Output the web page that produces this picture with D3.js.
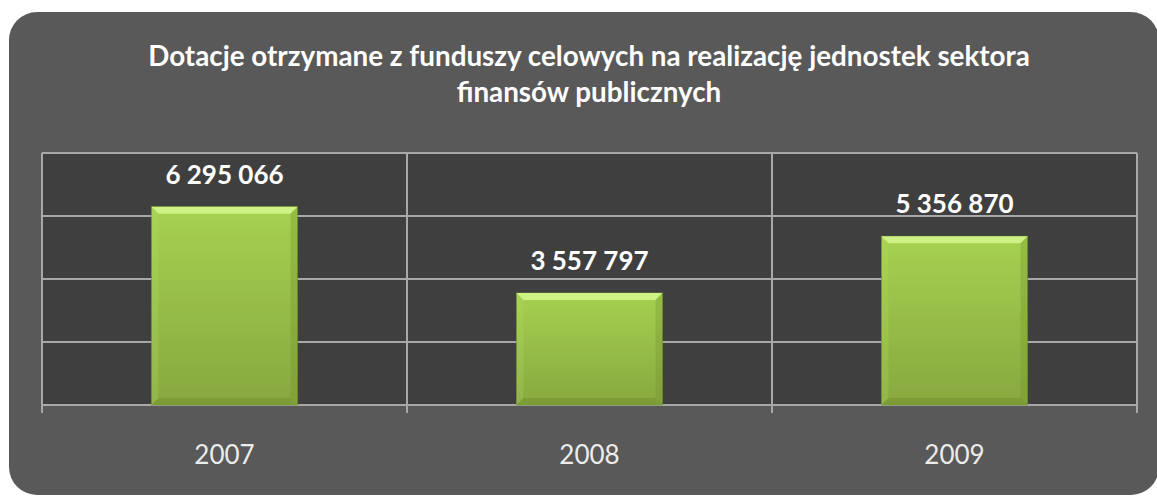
<!DOCTYPE html>
<html>
<head>
<meta charset="utf-8">
<script src="https://cdn.jsdelivr.net/npm/d3@7"></script>
<style>
  body { margin: 0; background: #fff; }
  svg { display: block; }
  text { font-family: Lato, "Open Sans", sans-serif; }
</style>
</head>
<body>
<div id="chart"></div>
<script>
const years = ["2007", "2008", "2009"];
const values = [6295066, 3557797, 5356870];
const yTicks = [0, 2000000, 4000000, 6000000, 8000000];
const titleLines = ["Dotacje otrzymane z funduszy celowych na realizację jednostek sektora", "finansów publicznych"];

const W = 1157, H = 498;
const plot = {left: 42, right: 1137, top: 153, bottom: 405};

const svg = d3.select("#chart").append("svg")
    .attr("width", W)
    .attr("height", H);

const defs = svg.append("defs");
const grad = defs.append("linearGradient")
    .attr("id", "barFill")
    .attr("x1", 0).attr("y1", 0).attr("x2", 0).attr("y2", 1);
grad.append("stop").attr("offset", "0%").attr("stop-color", "#a6d150");
grad.append("stop").attr("offset", "100%").attr("stop-color", "#87a83f");

// outer panel
svg.append("rect")
    .attr("x", 9).attr("y", 12)
    .attr("width", 1150).attr("height", 483)
    .attr("rx", 28)
    .attr("fill", "#595959");

const x = d3.scaleBand()
    .domain(years)
    .range([plot.left, plot.right])
    .padding(0);

const y = d3.scaleLinear()
    .domain([0, 8000000])
    .range([plot.bottom, plot.top]);

// plot area
svg.append("rect")
    .attr("x", plot.left).attr("y", plot.top)
    .attr("width", plot.right - plot.left)
    .attr("height", plot.bottom - plot.top)
    .attr("fill", "#3f3f3f");

// horizontal gridlines
svg.append("g")
  .selectAll("line")
  .data(yTicks)
  .join("line")
    .attr("x1", plot.left).attr("x2", plot.right)
    .attr("y1", d => y(d)).attr("y2", d => y(d))
    .attr("stroke", "#a8a8a8")
    .attr("stroke-width", 2);

// vertical category separators with ticks below the axis
const bounds = years.map(d => x(d)).concat([x(years[years.length - 1]) + x.bandwidth()]);
svg.append("g")
  .selectAll("line")
  .data(bounds)
  .join("line")
    .attr("x1", d => d).attr("x2", d => d)
    .attr("y1", plot.top).attr("y2", plot.bottom + 8)
    .attr("stroke", "#a8a8a8")
    .attr("stroke-width", 2);

// bars
const bw = x.bandwidth() * 0.4;
const bev = 7;
const bars = svg.append("g")
  .selectAll("g")
  .data(years.map((d, i) => ({year: d, value: values[i]})))
  .join("g");

bars.append("rect")
    .attr("x", d => x(d.year) + (x.bandwidth() - bw) / 2)
    .attr("y", d => y(d.value))
    .attr("width", bw)
    .attr("height", d => y(0) - y(d.value))
    .attr("fill", "url(#barFill)")
    .attr("stroke", "#6d8c2a")
    .attr("stroke-width", 1)
    .attr("stroke-opacity", 0.6);

function bevel(d, side) {
  const x0 = x(d.year) + (x.bandwidth() - bw) / 2, x1 = x0 + bw;
  const y0 = y(d.value), y1 = y(0);
  const p = {
    top: [[x0, y0], [x1, y0], [x1 - bev, y0 + bev], [x0 + bev, y0 + bev]],
    left: [[x0, y0], [x0 + bev, y0 + bev], [x0 + bev, y1 - bev], [x0, y1]],
    right: [[x1, y0], [x1, y1], [x1 - bev, y1 - bev], [x1 - bev, y0 + bev]],
    bottom: [[x0, y1], [x0 + bev, y1 - bev], [x1 - bev, y1 - bev], [x1, y1]]
  };
  return "M" + p[side].join("L") + "Z";
}
const bevStyle = {top: ["#d6f88f", 0.85], left: ["#b4dc66", 0.25], right: ["#6f8f2c", 0.3], bottom: ["#6f8f2c", 0.45]};
Object.keys(bevStyle).forEach(side => {
  bars.append("path")
      .attr("d", d => bevel(d, side))
      .attr("fill", bevStyle[side][0])
      .attr("fill-opacity", bevStyle[side][1]);
});

// value labels
const fmt = v => d3.format(",")(v).replace(/,/g, " ");
bars.append("text")
    .attr("x", d => x(d.year) + x.bandwidth() / 2)
    .attr("y", d => y(d.value) - 23)
    .attr("text-anchor", "middle")
    .attr("fill", "#ffffff")
    .attr("font-weight", "bold")
    .attr("font-size", 26)
    .text(d => fmt(d.value));

// category labels
svg.append("g")
  .selectAll("text")
  .data(years)
  .join("text")
    .attr("x", d => x(d) + x.bandwidth() / 2)
    .attr("y", 464)
    .attr("text-anchor", "middle")
    .attr("fill", "#ececec")
    .attr("font-size", 26)
    .text(d => d);

// title
const title = svg.append("g");
title.selectAll("text")
  .data(titleLines)
  .join("text")
    .attr("x", 589)
    .attr("y", (d, i) => 66 + i * 36)
    .attr("text-anchor", "middle")
    .attr("fill", "#ffffff")
    .attr("font-weight", "bold")
    .attr("font-size", 24)
    .text(d => d);
// fit first line to the width it has in the picture
const t0 = title.select("text").node();
const fs = 24 * 882 / t0.getComputedTextLength();
title.selectAll("text").attr("font-size", fs);
</script>
</body>
</html>
